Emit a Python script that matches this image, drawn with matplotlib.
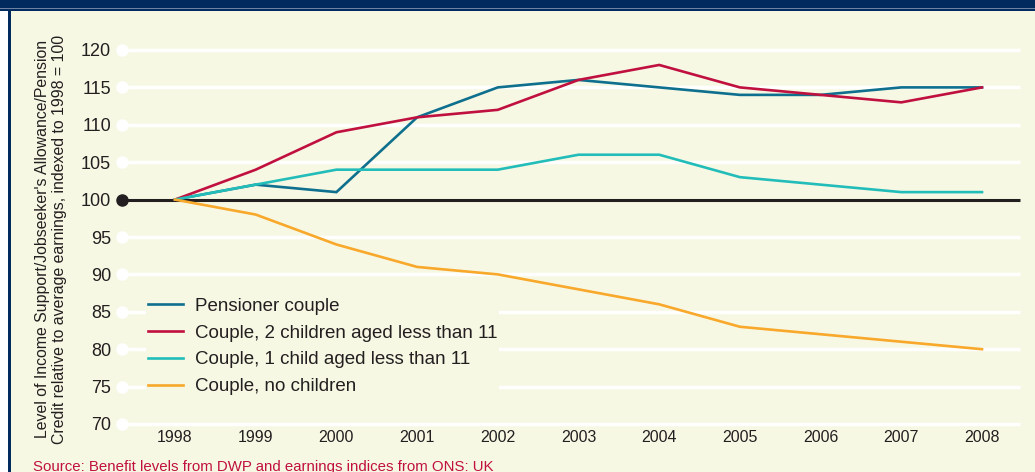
import matplotlib
matplotlib.use("Agg")
import matplotlib.pyplot as plt
from matplotlib.patches import Rectangle

plt.rcParams['font.family'] = ['Liberation Sans', 'DejaVu Sans']

years = [1998, 1999, 2000, 2001, 2002, 2003, 2004, 2005, 2006, 2007, 2008]
pensioner_couple = [100, 102, 101, 111, 115, 116, 115, 114, 114, 115, 115]
couple_2_children = [100, 104, 109, 111, 112, 116, 118, 115, 114, 113, 115]
couple_1_child = [100, 102, 104, 104, 104, 106, 106, 103, 102, 101, 101]
couple_no_children = [100, 98, 94, 91, 90, 88, 86, 83, 82, 81, 80]
y_ticks = [70, 75, 80, 85, 90, 95, 100, 105, 110, 115, 120]

labels = ["Pensioner couple", "Couple, 2 children aged less than 11",
          "Couple, 1 child aged less than 11", "Couple, no children"]
colors = ["#0E6F8E", "#C0103F", "#23BDB9", "#F8A82A"]

BG = "#F7F8E4"
NAVY = "#012A5E"
TXT = "#231F20"

W, H = 1035, 472
fig = plt.figure(figsize=(W / 100, H / 100), dpi=100, facecolor=BG)

# frame
fig.patches.append(Rectangle((0, 0), 8 / W, 1, transform=fig.transFigure, facecolor="white", edgecolor="none", zorder=0))
fig.patches.append(Rectangle((8 / W, 0), 3 / W, 1, transform=fig.transFigure, facecolor=NAVY, edgecolor="none", zorder=0))
fig.patches.append(Rectangle((0, 1 - 11 / H), 1, 11 / H, transform=fig.transFigure, facecolor=NAVY, edgecolor="none", zorder=0))
fig.patches.append(Rectangle((0, 1 - 9 / H), 1, 1 / H, transform=fig.transFigure, facecolor="#6D82A3", edgecolor="none", zorder=0))

x0, x1 = 122, 1020
y0, y1 = 50, 424
ax = fig.add_axes([x0 / W, (H - y1) / H, (x1 - x0) / W, (y1 - y0) / H])
ax.set_facecolor(BG)
ppy = (982 - 175) / 10.0
xmin = 1998 - (175 - x0) / ppy
xmax = 2008 + (x1 - 982) / ppy
ax.set_xlim(xmin, xmax)
ax.set_ylim(70, 120)

for v in y_ticks:
    if v == 100:
        continue
    ax.axhline(v, 0, 1, color="white", lw=2.4, zorder=1, clip_on=False, solid_capstyle='butt')
    ax.plot([xmin], [v], 'o', ms=8, color="white", clip_on=False, zorder=2)
ax.axhline(100, 0, 1, color="#231F20", lw=2.2, zorder=3, clip_on=False, solid_capstyle='butt')
ax.plot([xmin], [100], 'o', ms=8, color="#231F20", clip_on=False, zorder=4)

series = [pensioner_couple, couple_2_children, couple_1_child, couple_no_children]
handles = []
for s, c, lab in zip(series, colors, labels):
    h, = ax.plot(years, s, color=c, lw=1.9, label=lab, zorder=5, solid_joinstyle='miter')
    handles.append(h)

ax.set_yticks(y_ticks)
ax.set_yticklabels([str(v) for v in y_ticks])
ax.set_xticks(years)
ax.set_xticklabels([str(y) for y in years])
ax.tick_params(axis='both', length=0, colors=TXT)
ax.tick_params(axis='y', pad=8, labelsize=13)
ax.tick_params(axis='x', pad=4, labelsize=11.5)
for sp in ax.spines.values():
    sp.set_visible(False)

leg = ax.legend(handles=handles, loc='upper left', bbox_to_anchor=(146 / W, 1 - 296 / H),
                bbox_transform=fig.transFigure, frameon=True, facecolor=BG, edgecolor='none',
                framealpha=1, fancybox=False, fontsize=13.5, handlelength=1.87, handletextpad=0.64,
                labelspacing=0.51, borderpad=0.1, borderaxespad=0)
for t in leg.get_texts():
    t.set_color(TXT)
leg.set_zorder(6)

fig.text(51 / W, 1 - 239 / H,
         "Level of Income Support/Jobseeker's Allowance/Pension\nCredit relative to average earnings, indexed to 1998 = 100",
         rotation=90, ha='center', va='center', fontsize=11.4, color=TXT, linespacing=1.1)
fig.text(33 / W, 1 - 467 / H, "Source: Benefit levels from DWP and earnings indices from ONS: UK",
         ha='left', va='center', fontsize=10.8, color="#C0103F")

fig.savefig("out.png", dpi=100, facecolor=BG)
